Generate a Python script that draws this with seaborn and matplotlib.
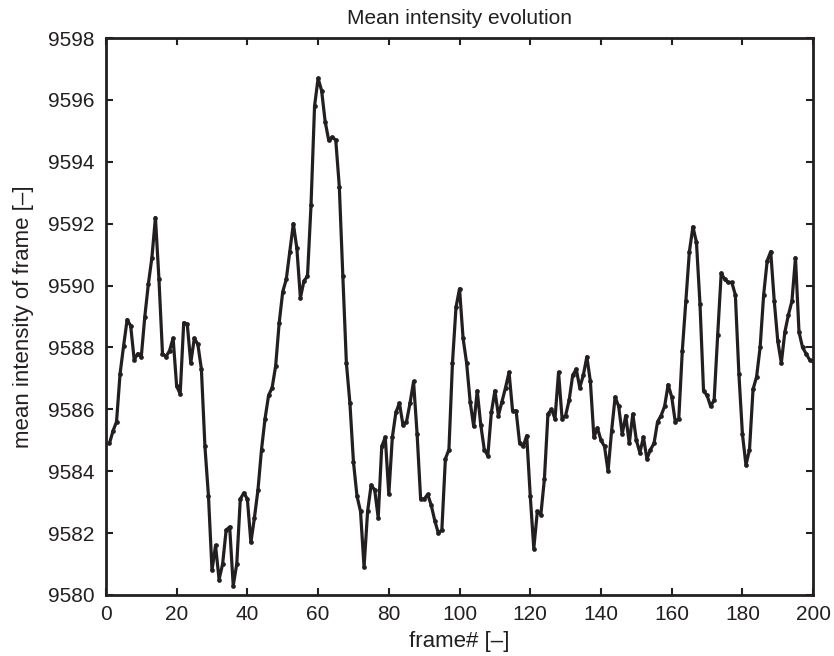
import numpy as np
import pandas as pd
import seaborn as sns
import matplotlib
matplotlib.use("Agg")
import matplotlib.pyplot as plt

frames = list(range(1, 201))
intensity = [
    9584.9, 9585.3, 9585.6, 9587.15, 9588.05, 9588.9, 9588.7, 9587.6, 9587.8, 9587.7,
    9589.0, 9590.05, 9590.9, 9592.2, 9590.2, 9587.8, 9587.7, 9587.9, 9588.3, 9586.75,
    9586.5, 9588.8, 9588.75, 9587.5, 9588.3, 9588.1, 9587.3, 9584.8, 9583.2, 9580.8,
    9581.6, 9580.5, 9581.0, 9582.1, 9582.2, 9580.3, 9581.0, 9583.1, 9583.3, 9583.1,
    9581.7, 9582.5, 9583.4, 9584.7, 9585.7, 9586.45, 9586.7, 9587.4, 9588.8, 9589.8,
    9590.2, 9591.1, 9592.0, 9591.2, 9589.6, 9590.15, 9590.3, 9592.6, 9595.8, 9596.7,
    9596.3, 9595.3, 9594.7, 9594.8, 9594.7, 9593.2, 9590.3, 9587.5, 9586.2, 9584.3,
    9583.2, 9582.7, 9580.9, 9582.7, 9583.55, 9583.4, 9582.5, 9584.8, 9585.1, 9583.25,
    9585.1, 9585.9, 9586.2, 9585.5, 9585.6, 9586.2, 9586.9, 9585.2, 9583.1, 9583.1,
    9583.25, 9582.9, 9582.4, 9582.0, 9582.1, 9584.4, 9584.7, 9587.5, 9589.3, 9589.9,
    9588.3, 9587.5, 9586.25, 9585.45, 9586.6, 9585.5, 9584.7, 9584.5, 9585.9, 9586.6,
    9585.8, 9586.25, 9586.7, 9587.2, 9585.95, 9585.95, 9584.9, 9584.8, 9585.15, 9583.2,
    9581.5, 9582.7, 9582.6, 9583.75, 9585.85, 9586.0, 9585.7, 9587.2, 9585.7, 9585.8,
    9586.3, 9587.1, 9587.3, 9586.7, 9587.1, 9587.7, 9586.9, 9585.1, 9585.4, 9585.0,
    9584.8, 9584.0, 9585.3, 9586.4, 9586.1, 9585.2, 9585.8, 9584.9, 9585.85, 9585.0,
    9584.6, 9585.1, 9584.4, 9584.7, 9584.9, 9585.6, 9585.8, 9586.1, 9586.8, 9586.4,
    9585.6, 9585.7, 9587.9, 9589.5, 9591.1, 9591.9, 9591.4, 9589.4, 9586.6, 9586.45,
    9586.1, 9586.3, 9588.4, 9590.4, 9590.2, 9590.1, 9590.1, 9589.7, 9587.15, 9585.2,
    9584.2, 9584.7, 9586.65, 9587.05, 9588.0, 9589.7, 9590.8, 9591.1, 9589.5, 9588.2,
    9587.5, 9588.5, 9589.05, 9589.5, 9590.9, 9588.5, 9588.0, 9587.8, 9587.6, 9587.55,
]
xticks = [0, 20, 40, 60, 80, 100, 120, 140, 160, 180, 200]
yticks = [9580, 9582, 9584, 9586, 9588, 9590, 9592, 9594, 9596, 9598]

sns.set_theme(style="ticks")
plt.rcParams['font.family'] = ['Liberation Sans', 'DejaVu Sans']

df = pd.DataFrame({"frame": frames, "intensity": intensity})

fig = plt.figure(figsize=(8.34, 6.56), dpi=100)
ax = fig.add_axes([0.127, 0.093, 0.848, 0.849])
sns.lineplot(data=df, x="frame", y="intensity", ax=ax, color="#231f20",
             linewidth=2.3, marker="o", markersize=3.4, markeredgewidth=0)

ax.set_xlim(0, 200)
ax.set_ylim(9580, 9598)
ax.set_xticks(xticks)
ax.set_yticks(yticks)
ax.set_xticklabels([str(v) for v in xticks], fontsize=15)
ax.set_yticklabels([str(v) for v in yticks], fontsize=15)
ax.tick_params(direction="in", top=True, right=True, length=5, width=1.5,
               color="#231f20", labelcolor="#231f20")
ax.tick_params(axis="y", pad=8)
ax.tick_params(axis="x", pad=7)
for s in ax.spines.values():
    s.set_visible(True)
    s.set_linewidth(2.0)
    s.set_color("#231f20")
ax.set_title("Mean intensity evolution", fontsize=15, pad=10, color="#231f20")
ax.set_xlabel("frame# [–]", fontsize=16, labelpad=5, color="#231f20")
ax.set_ylabel("mean intensity of frame [–]", fontsize=16, labelpad=10, color="#231f20")

fig.savefig("out.png", dpi=100)
